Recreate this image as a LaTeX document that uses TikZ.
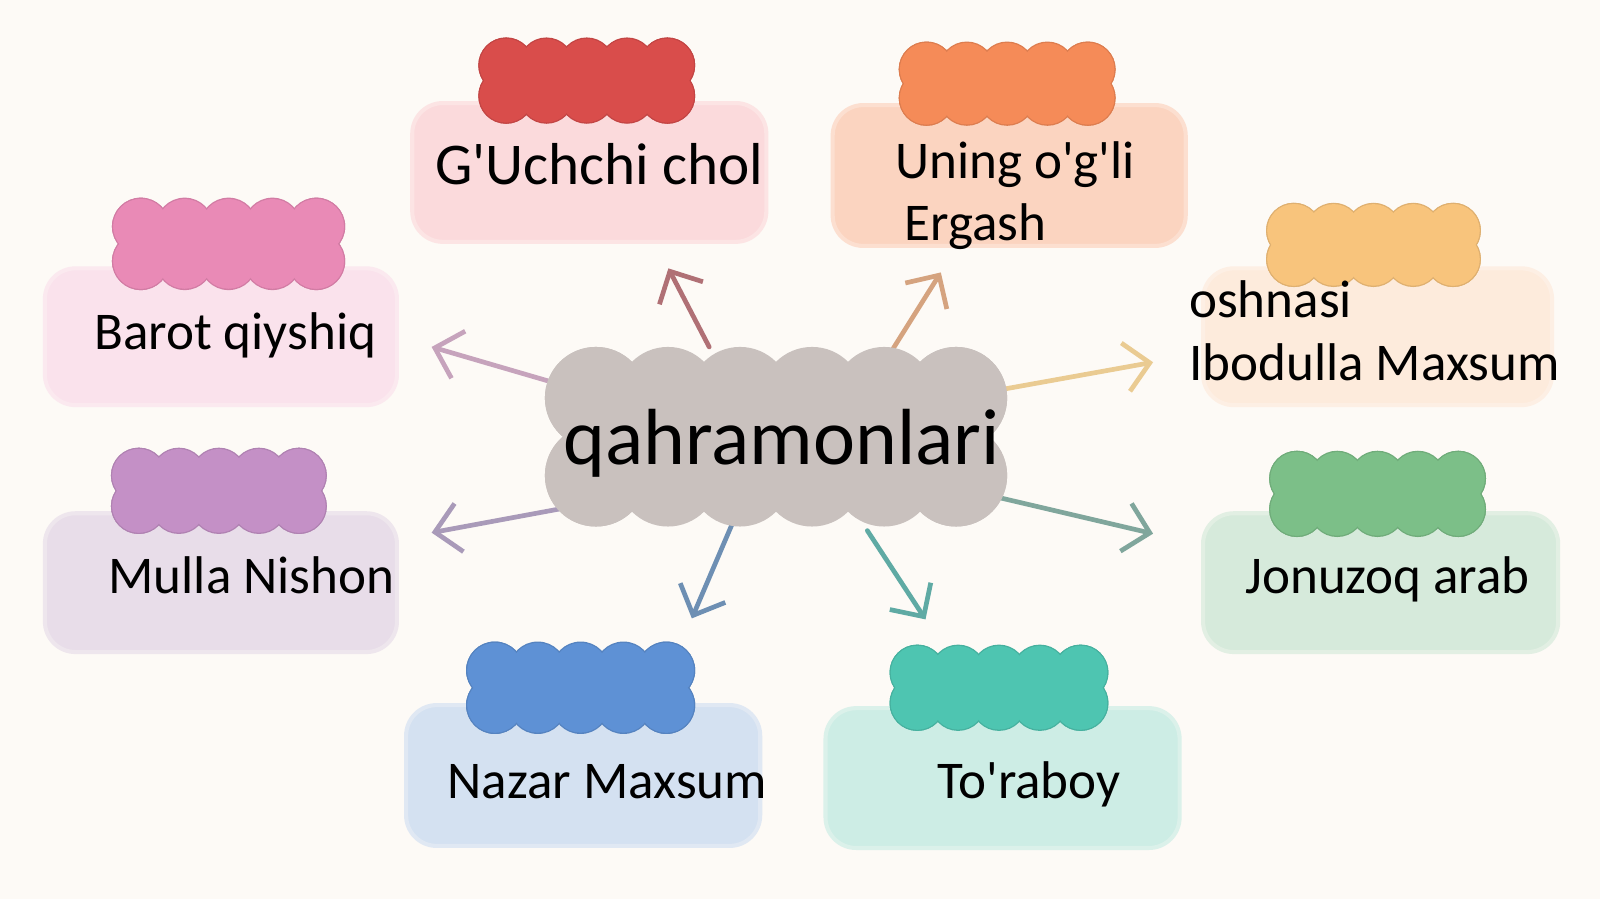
\documentclass[tikz,border=0pt]{standalone}
\usepackage{fontspec}
\setmainfont{Carlito}
\usetikzlibrary{arrows.meta,fit}
\definecolor{bgc}{HTML}{FDFAF6}
\definecolor{boxA}{HTML}{FBDADC}\definecolor{cldA}{HTML}{D94D4B}\definecolor{arrA}{HTML}{B07075}
\definecolor{boxB}{HTML}{FBD4C0}\definecolor{cldB}{HTML}{F58B58}\definecolor{arrB}{HTML}{D5A37F}
\definecolor{boxC}{HTML}{FDEBDC}\definecolor{cldC}{HTML}{F8C47C}\definecolor{arrC}{HTML}{EACB92}
\definecolor{boxD}{HTML}{D6EADB}\definecolor{cldD}{HTML}{7CBF88}\definecolor{arrD}{HTML}{80A69C}
\definecolor{boxE}{HTML}{CDEDE5}\definecolor{cldE}{HTML}{4EC5B1}\definecolor{arrE}{HTML}{5FAAA4}
\definecolor{boxF}{HTML}{D4E1F1}\definecolor{cldF}{HTML}{5E91D5}\definecolor{arrF}{HTML}{6E8FB3}
\definecolor{boxG}{HTML}{E8DDE9}\definecolor{cldG}{HTML}{C490C6}\definecolor{arrG}{HTML}{A99AB9}
\definecolor{boxH}{HTML}{FAE2EC}\definecolor{cldH}{HTML}{E98AB6}\definecolor{arrH}{HTML}{C6A3BC}
\definecolor{cldM}{HTML}{C9C1BE}
% one pass of a scalloped cloud: x0 y0 x1 y1 r nx ny extra colour
\newcommand\sclp[9]{%
  \pgfmathsetmacro\sxa{#1+#5}%
  \pgfmathsetmacro\sxb{#3-#5}%
  \pgfmathsetmacro\sya{#2+#5}%
  \pgfmathsetmacro\syb{#4-#5}%
  \pgfmathsetmacro\srad{(#5+#8)*0.5}%
  \fill[#9] (\sxa,\sya) rectangle (\sxb,\syb);
  \foreach \ii in {0,...,#6}{%
    \pgfmathsetmacro\ccx{\sxa+(\sxb-\sxa)*\ii/#6}%
    \fill[#9] (\ccx,\sya) circle[radius=\srad pt];
    \fill[#9] (\ccx,\syb) circle[radius=\srad pt];
  }%
  \foreach \ii in {0,...,#7}{%
    \pgfmathsetmacro\ccy{\sya+(\syb-\sya)*\ii/#7}%
    \fill[#9] (\sxa,\ccy) circle[radius=\srad pt];
    \fill[#9] (\sxb,\ccy) circle[radius=\srad pt];
  }%
}
\newcommand\scl[8]{%
  \sclp{#1}{#2}{#3}{#4}{#5}{#6}{#7}{1.3}{#8!90!black}%
  \sclp{#1}{#2}{#3}{#4}{#5}{#6}{#7}{0}{#8}%
}
\tikzset{
  box/.style={rounded corners=15pt, inner sep=0pt, fill=#1, draw=#1!70!bgc, line width=2pt},
  lab/.style={font=\fontsize{26}{31}\selectfont, anchor=base west, inner sep=0pt, text=black},
  arr/.style={line width=2.3pt, line cap=round, -{Straight Barb[length=12pt,width=24pt]}}
}
\begin{document}
\begin{tikzpicture}[x=0.5pt,y=-0.5pt]
\fill[bgc] (0,0) rectangle (1568,881);
\useasboundingbox (0,0) rectangle (1568,881);
% boxes
\node[box=boxA, fit={(404,101) (751,237)}] (bA) {};
\node[box=boxB, fit={(816,103) (1162,241)}] (bB) {};
\node[box=boxC, fit={(1179,263) (1521,397)}] (bC) {};
\node[box=boxD, fit={(1179,503) (1527,639)}] (bD) {};
\node[box=boxE, fit={(809,694) (1156,831)}] (bE) {};
\node[box=boxF, fit={(398,691) (745,829)}] (bF) {};
\node[box=boxG, fit={(44,503) (389,639)}] (bG) {};
\node[box=boxH, fit={(44,263) (389,397)}] (bH) {};
% arrows
\coordinate (sA) at (695,340); \coordinate (eA) at (655,263);
\coordinate (sB) at (870,350); \coordinate (eB) at (922,267);
\coordinate (sC) at (980,382); \coordinate (eC) at (1130,355);
\coordinate (sD) at (955,482); \coordinate (eD) at (1130,523);
\coordinate (sE) at (850,520); \coordinate (eE) at (907,607);
\coordinate (sF) at (722,503); \coordinate (eF) at (678,606);
\coordinate (sG) at (585,492); \coordinate (eG) at (423,522);
\coordinate (sH) at (560,380); \coordinate (eH) at (423,340);
\draw[arr, arrA] (sA) -- (eA);
\draw[arr, arrB] (sB) -- (eB);
\draw[arr, arrC] (sC) -- (eC);
\draw[arr, arrD] (sD) -- (eD);
\draw[arr, arrE] (sE) -- (eE);
\draw[arr, arrF] (sF) -- (eF);
\draw[arr, arrG] (sG) -- (eG);
\draw[arr, arrH] (sH) -- (eH);
% clouds
\sclp{534}{340}{987}{516}{50}{5}{1}{0}{cldM}
\scl{470}{38}{680}{120}{26}{4}{1}{cldA}
\scl{882}{42}{1092}{122}{26}{4}{1}{cldB}
\scl{1242}{200}{1450}{280}{26}{4}{1}{cldC}
\scl{1245}{443}{1455}{525}{26}{4}{1}{cldD}
\scl{873}{633}{1085}{715}{26}{4}{1}{cldE}
\scl{458}{630}{680}{718}{27}{4}{1}{cldF}
\scl{110}{440}{319}{522}{26}{4}{1}{cldG}
\scl{111}{195}{337}{283}{27}{4}{1}{cldH}
% texts
\node[lab, font=\fontsize{29}{34}\selectfont] (tA) at (426,181) {G\textquotesingle Uchchi chol};
\node[lab] (tB1) at (877,175) {Uning o\textquotesingle g\textquotesingle li};
\node[lab] (tB2) at (886,236) {Ergash};
\node[lab] (tC1) at (1165,311) {oshnasi};
\node[lab] (tC2) at (1165,373) {Ibodulla Maxsum};
\node[lab] (tD) at (1220,582) {Jonuzoq arab};
\node[lab] (tE) at (918,783) {To\textquotesingle raboy};
\node[lab] (tF) at (438,783) {Nazar Maxsum};
\node[lab] (tG) at (106,582) {Mulla Nishon};
\node[lab] (tH) at (92,343) {Barot qiyshiq};
\node[lab, font=\fontsize{39}{45}\selectfont] (ctr) at (552,455) {qahramonlari};
\end{tikzpicture}
\end{document}
